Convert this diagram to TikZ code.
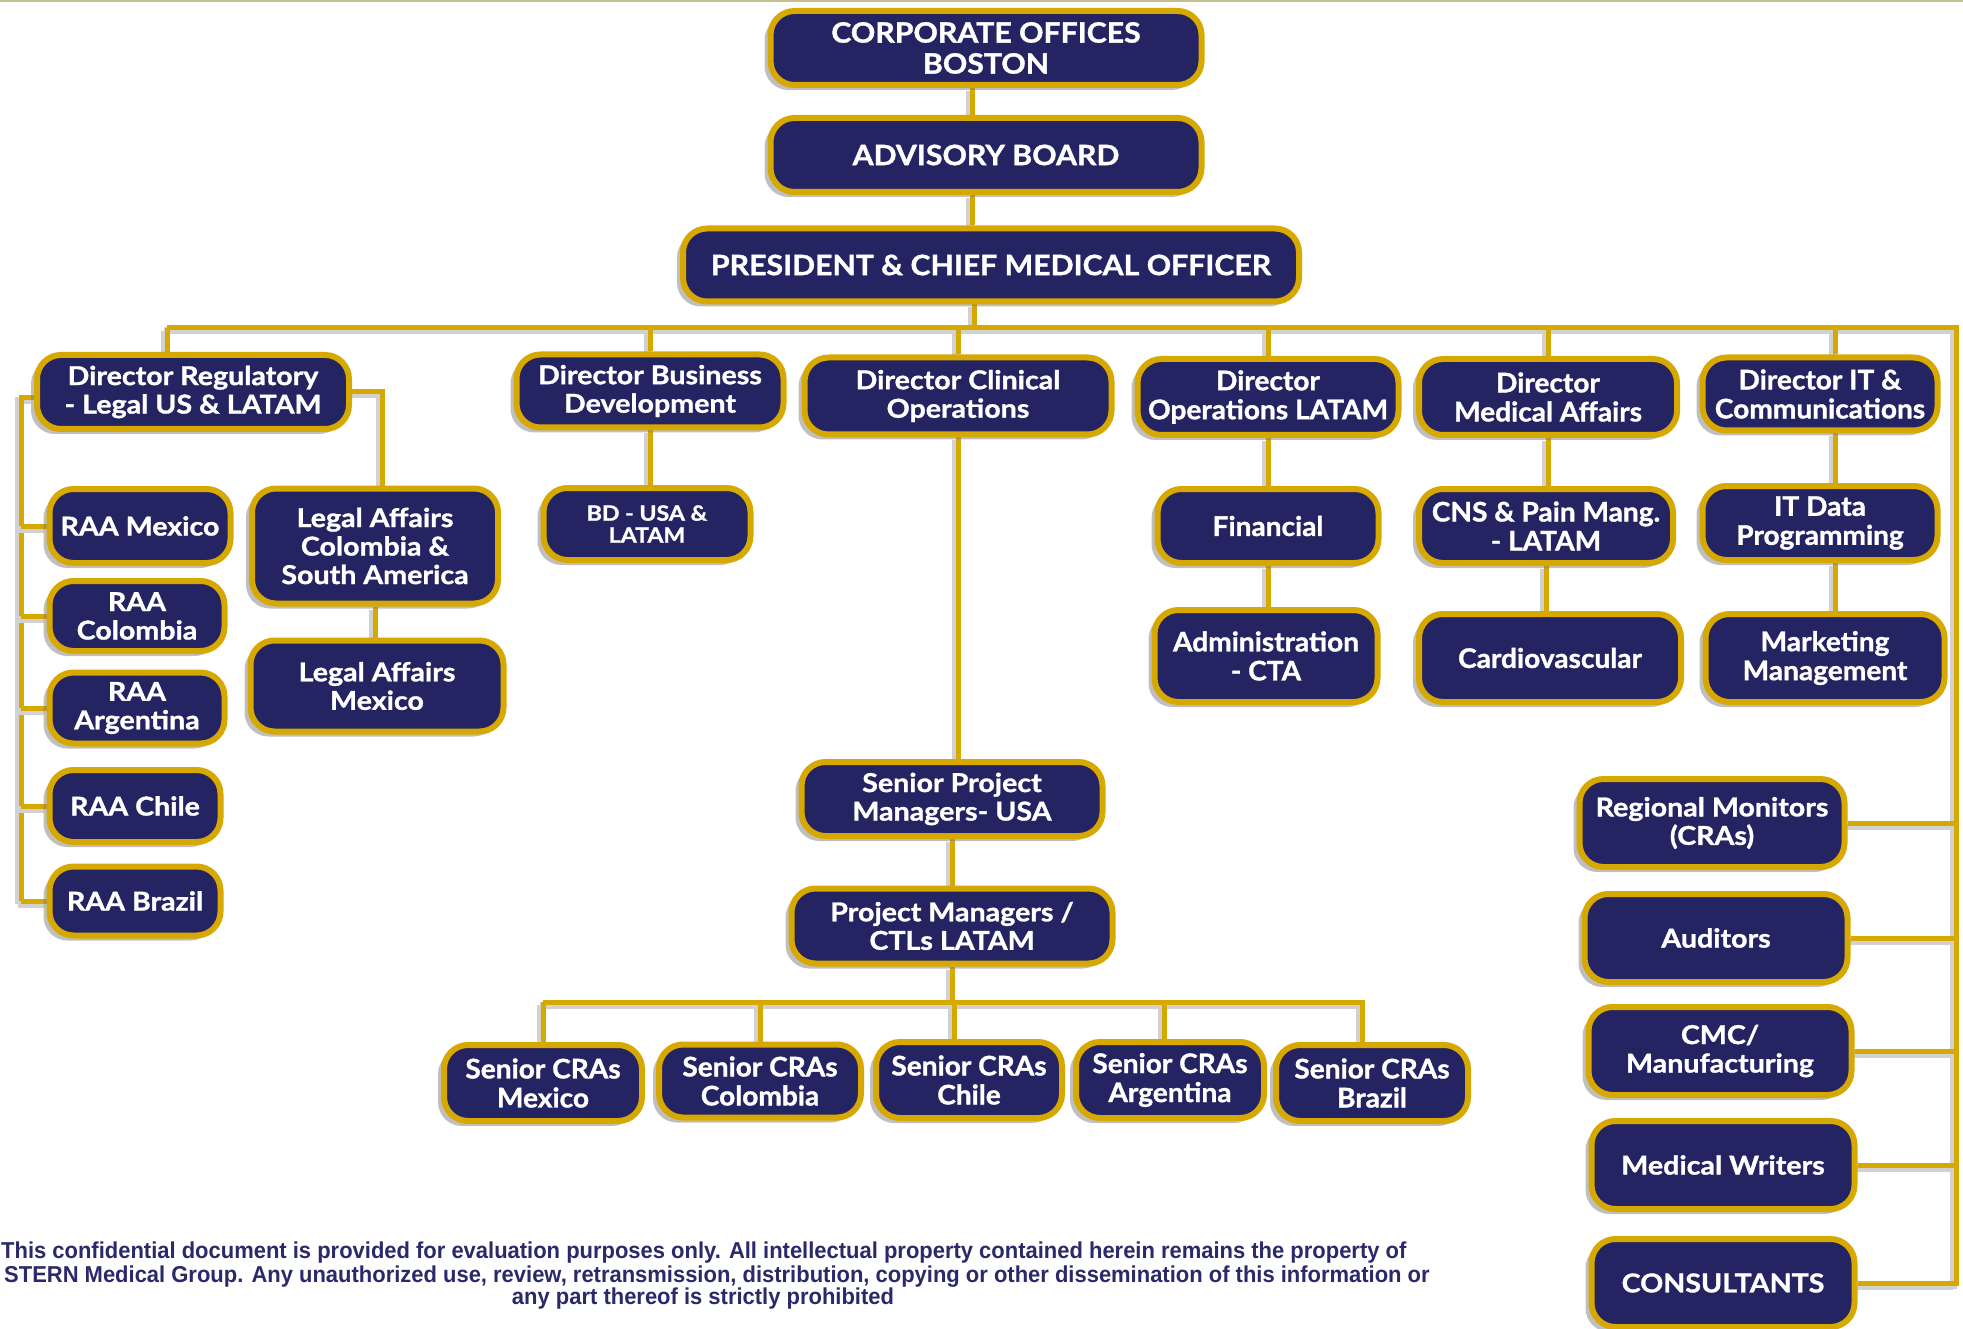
\documentclass[tikz,border=0pt]{standalone}
\usepackage{fontspec}
\setmainfont{Lato}
\newfontfamily\boxfont{Lato}[FakeStretch=1.1, BoldFeatures={FakeBold=1.2}]
\newfontfamily\bigfont{Lato}[FakeStretch=1.08, BoldFeatures={FakeBold=1.2}]
\newfontfamily\condfont{Lato}[FakeStretch=1.04, BoldFeatures={FakeBold=1.2}]
\newfontfamily\footfont{Liberation Sans}[FakeStretch=0.955]
\usetikzlibrary{shadows}
\definecolor{navy}{RGB}{37,36,99}
\definecolor{gold}{RGB}{214,168,0}
\definecolor{foot}{RGB}{42,42,106}
\pgfdeclarelayer{bg0}
\pgfdeclarelayer{background}
\pgfsetlayers{bg0,background,main}
\begin{document}
\begin{tikzpicture}[x=1pt,y=-1pt,
 box/.style={draw=gold, line width=6pt, fill=navy, rounded corners=24pt, text=white, align=center, inner sep=0pt,
   font=\boxfont\bfseries\fontsize{26}{28.5}\selectfont,
   drop shadow={shadow xshift=-6pt, shadow yshift=-5pt, opacity=0.5}},
 big/.style={box, font=\bigfont\bfseries\fontsize{28}{31}\selectfont},
 cond/.style={box, font=\condfont\bfseries\fontsize{27}{29}\selectfont},
 footline/.style={text=foot, inner sep=0pt, font=\footfont\bfseries\fontsize{23}{23.5}\selectfont},
 conn/.style={draw=gold, line width=5pt,
   preaction={draw=black!18, line width=7pt, transform canvas={shift={(-3pt,-3pt)}}}},
]
\useasboundingbox (0,0) rectangle (1963,1329);
\begin{pgfonlayer}{bg0}
\fill[white] (0,0) rectangle (1963,1329);
\draw[line width=3pt, color=black!35!olive!40] (0,1) -- (1963,1);
\end{pgfonlayer}

% top
\node[big, minimum width=431pt, minimum height=74pt] (cob) at (986,48) {CORPORATE OFFICES\\BOSTON};
\node[big, minimum width=431pt, minimum height=74pt] (adv) at (986,155) {ADVISORY BOARD};
\node[big, minimum width=616pt, minimum height=73pt] (pres) at (991,265) {PRESIDENT \& CHIEF MEDICAL OFFICER};

% directors
\node[box, minimum width=312pt, minimum height=74pt] (reg) at (193,392) {Director Regulatory\\- Legal US \& LATAM};
\node[box, minimum width=267pt, minimum height=73pt] (bd) at (650,391) {Director Business\\Development};
\node[box, minimum width=307pt, minimum height=77pt] (clin) at (958,396) {Director Clinical\\Operations};
\node[cond, minimum width=261pt, minimum height=76pt] (ops) at (1268,397) {Director\\Operations LATAM};
\node[cond, minimum width=258pt, minimum height=76pt] (med) at (1548,397) {Director\\Medical Affairs};
\node[cond, minimum width=235pt, minimum height=73pt] (it) at (1820,394) {Director IT \&\\Communications};

% regulatory
\node[box, minimum width=181pt, minimum height=74pt] (raamx) at (140,526) {RAA Mexico};
\node[box, minimum width=175pt, minimum height=70pt] (raaco) at (137,616) {RAA\\Colombia};
\node[box, minimum width=175pt, minimum height=71pt] (raaar) at (137,708) {RAA\\Argentina};
\node[box, minimum width=171pt, minimum height=72pt] (raach) at (135,806) {RAA Chile};
\node[box, minimum width=171pt, minimum height=69pt] (raabr) at (135,901) {RAA Brazil};
\node[box, minimum width=246pt, minimum height=115pt] (legco) at (375,546) {Legal Affairs\\Colombia \&\\South America};
\node[box, minimum width=253pt, minimum height=91pt] (legmx) at (377,686) {Legal Affairs\\Mexico};

% BD
\node[box, minimum width=207pt, minimum height=72pt, font=\boxfont\bfseries\fontsize{21}{22}\selectfont] (bdusa) at (647,524) {BD - USA \&\\LATAM};

% clinical
\node[box, minimum width=301pt, minimum height=74pt] (spm) at (952,799) {Senior Project\\Managers- USA};
\node[box, minimum width=321pt, minimum height=75pt] (pm) at (952,926) {Project Managers /\\CTLs LATAM};
\node[cond, minimum width=198pt, minimum height=76pt] (cramx) at (543,1083) {Senior CRAs\\Mexico};
\node[cond, minimum width=202pt, minimum height=73pt] (cracl) at (760,1081) {Senior CRAs\\Colombia};
\node[cond, minimum width=186pt, minimum height=76pt] (crach) at (969,1080) {Senior CRAs\\Chile};
\node[cond, minimum width=188pt, minimum height=76pt] (craar) at (1170,1080) {Senior CRAs\\Argentina};
\node[cond, minimum width=192pt, minimum height=76pt] (crabr) at (1372,1083) {Senior CRAs\\Brazil};

% operations / medical / IT
\node[cond, minimum width=221pt, minimum height=74pt] (fin) at (1268,526) {Financial};
\node[cond, minimum width=223pt, minimum height=92pt] (adm) at (1266,656) {Administration\\- CTA};
\node[cond, minimum width=254pt, minimum height=74pt] (cns) at (1546,526) {CNS \& Pain Mang.\\- LATAM};
\node[cond, minimum width=262pt, minimum height=88pt] (car) at (1550,658) {Cardiovascular};
\node[cond, minimum width=235pt, minimum height=74pt] (itd) at (1820,523) {IT Data\\Programming};
\node[cond, minimum width=239pt, minimum height=88pt] (mkt) at (1825,658) {Marketing\\Management};

% right column
\node[box, minimum width=265pt, minimum height=88pt] (rm) at (1712,823) {Regional Monitors\\(CRAs)};
\node[box, minimum width=263pt, minimum height=88pt] (aud) at (1716,938) {Auditors};
\node[box, minimum width=263pt, minimum height=88pt] (cmc) at (1720,1051) {CMC/\\Manufacturing};
\node[box, minimum width=263pt, minimum height=88pt] (mw) at (1723,1165) {Medical Writers};
\node[box, minimum width=263pt, minimum height=88pt] (cons) at (1723,1283) {CONSULTANTS};

% footer
\node[footline, anchor=base west] (foot1) at (1,1258) {This confidential document is provided for evaluation purposes only. All intellectual property contained herein remains the property of};
\node[footline, anchor=base west] (foot2) at (4,1282) {STERN Medical Group. Any unauthorized use, review, retransmission, distribution, copying or other dissemination of this information or};
\node[footline, anchor=base] (foot3) at (703,1304) {any part thereof is strictly prohibited};

\coordinate (busL) at (167,328);
\coordinate (busR) at (1956,328);
\coordinate (rbot) at (1956,1286);
\coordinate (regL) at (21,398);
\coordinate (regR) at (382,392);
\coordinate (b2L) at (543,1002);
\coordinate (b2R) at (1365,1002);

\begin{pgfonlayer}{background}
\draw[conn] ([xshift=-14pt]cob.south) -- ([xshift=-14pt]cob.south |- adv.north);
\draw[conn] ([xshift=-14pt]adv.south) -- ([xshift=-14pt]adv.south |- pres.north);
\draw[conn] ([xshift=-17pt]pres.south) -- ([xshift=-17pt]pres.south |- busL);
\draw[conn] (busL) -- (busR) -- (rbot);
\draw[conn] (busL) -- (busL |- reg.north);
\draw[conn] (bd.north |- busL) -- (bd.north);
\draw[conn] (clin.north |- busL) -- (clin.north);
\draw[conn] (ops.north |- busL) -- (ops.north);
\draw[conn] (med.north |- busL) -- (med.north);
\draw[conn] ([xshift=15pt]it.north |- busL) -- ([xshift=15pt]it.north);
% regulatory
\draw[conn] (reg.west |- regL) -- (regL) -- (regL |- raabr.west);
\foreach \n in {raamx,raaco,raaar,raach,raabr} \draw[conn] (\n.west -| regL) -- (\n.west);
\draw[conn] (reg.east) -- (regR) -- (regR |- legco.north);
\draw[conn] (legco.south) -- (legco.south |- legmx.north);
% BD
\draw[conn] (bd.south) -- (bd.south |- bdusa.north);
% clinical
\draw[conn] (clin.south) -- (clin.south |- spm.north);
\draw[conn] (spm.south) -- (spm.south |- pm.north);
\draw[conn] (pm.south) -- (pm.south |- b2L);
\draw[conn] (b2L) -- (b2R);
\draw[conn] (cramx.north |- b2L) -- (cramx.north);
\draw[conn] (cracl.north |- b2L) -- (cracl.north);
\draw[conn] ([xshift=-15pt]crach.north |- b2L) -- ([xshift=-15pt]crach.north);
\draw[conn] ([xshift=-6pt]craar.north |- b2L) -- ([xshift=-6pt]craar.north);
\draw[conn] ([xshift=-10pt]crabr.north |- b2L) -- ([xshift=-10pt]crabr.north);
% ops / med / IT
\draw[conn] (ops.south) -- (ops.south |- fin.north);
\draw[conn] (fin.south) -- (fin.south |- adm.north);
\draw[conn] (med.south) -- (med.south |- cns.north);
\draw[conn] (cns.south) -- (cns.south |- car.north);
\draw[conn] ([xshift=15pt]it.south) -- ([xshift=15pt]it.south |- itd.north);
\draw[conn] ([xshift=15pt]itd.south) -- ([xshift=15pt]itd.south |- mkt.north);
% right column
\foreach \n in {rm,aud,cmc,mw,cons} \draw[conn] (\n.east) -- (\n.east -| busR);
\end{pgfonlayer}
\end{tikzpicture}
\end{document}
